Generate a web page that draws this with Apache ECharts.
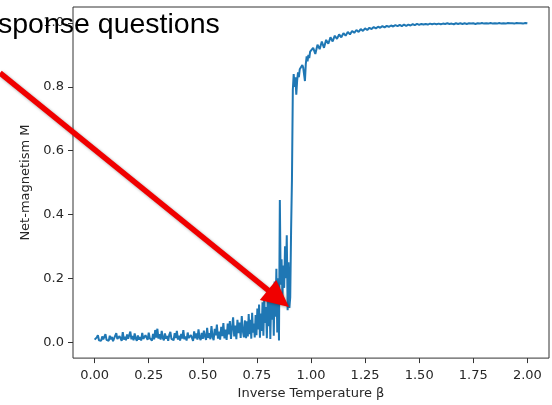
<!DOCTYPE html>
<html>
<head>
<meta charset="utf-8">
<script src="https://cdn.jsdelivr.net/npm/echarts@6/dist/echarts.min.js"></script>
<style>html,body{margin:0;padding:0;background:#fff}#c{width:552px;height:405px}</style>
</head>
<body>
<div id="c"></div>
<script>
// Magnetization, three stretches of beta
// Stretch A: beta 0.000 .. 0.695, step 0.005
const magLow = [
  0.008,0.003,0.015,0.022,0.006,0.011,0.004,0.018,0.009,0.003,
  0.025,0.007,0.013,0.004,0.020,0.009,0.016,0.003,0.012,0.006,
  0.028,0.010,0.005,0.019,0.013,0.004,0.031,0.008,0.017,0.006,
  0.024,0.011,0.005,0.033,0.009,0.019,0.006,0.027,0.012,0.004,
  0.021,0.008,0.016,0.005,0.029,0.010,0.004,0.022,0.014,0.007,
  0.030,0.012,0.018,0.005,0.026,0.009,0.038,0.014,0.042,0.011,
  0.025,0.008,0.035,0.013,0.006,0.027,0.011,0.019,0.004,0.023,
  0.032,0.010,0.016,0.006,0.028,0.013,0.035,0.008,0.020,0.005,
  0.026,0.011,0.038,0.009,0.018,0.005,0.030,0.013,0.007,0.022,
  0.016,0.004,0.034,0.012,0.027,0.008,0.040,0.014,0.006,0.029,
  0.010,0.036,0.018,0.007,0.045,0.013,0.028,0.009,0.050,0.016,
  0.006,0.042,0.021,0.055,0.011,0.033,0.008,0.048,0.019,0.060,
  0.012,0.039,0.007,0.058,0.024,0.066,0.010,0.045,0.078,0.018,
  0.052,0.009,0.070,0.028,0.061,0.013,0.082,0.035,0.015,0.068
];
// Stretch B: beta 0.700 .. 0.996, step 0.004
const magMid = [
  0.012,0.065,0.018,0.088,0.025,0.070,0.011,0.092,0.030,0.058,
  0.015,0.085,0.022,0.105,0.040,0.118,0.014,0.090,0.035,0.125,
  0.020,0.140,0.060,0.110,0.012,0.145,0.050,0.152,0.010,0.130,
  0.070,0.175,0.020,0.190,0.080,0.230,0.030,0.200,0.005,0.445,
  0.180,0.260,0.140,0.240,0.170,0.300,0.200,0.335,0.100,0.250,
  0.107,0.140,0.350,0.510,0.790,0.840,0.800,0.830,0.775,0.820,
  0.845,0.830,0.855,0.860,0.850,0.868,0.860,0.865,0.818,0.872,
  0.895,0.880,0.900,0.890,0.910
];
// Stretch C: beta 1.00 .. 2.00, step 0.01
const magHigh = [
  0.905,0.922,0.903,0.932,0.918,0.942,0.922,0.947,0.935,0.955,
  0.942,0.960,0.950,0.964,0.955,0.968,0.960,0.972,0.964,0.975,
  0.969,0.978,0.972,0.981,0.975,0.983,0.978,0.985,0.981,0.987,
  0.983,0.988,0.985,0.990,0.986,0.991,0.988,0.992,0.989,0.993,
  0.990,0.994,0.990,0.995,0.991,0.995,0.992,0.996,0.993,0.997,
  0.994,0.997,0.995,0.997,0.995,0.998,0.996,0.998,0.996,0.998,
  0.996,0.998,0.997,0.999,0.997,0.998,0.996,0.999,0.997,0.999,
  0.997,0.999,0.997,0.999,0.998,0.999,0.997,0.999,0.998,1.000,
  0.998,0.999,0.998,1.000,0.998,0.999,0.998,1.000,0.998,0.999,
  0.998,1.000,0.999,0.999,0.998,1.000,0.999,0.999,0.998,1.000,
  0.999
];
const stretches = [
  {start: 0.00, step: 0.005, values: magLow},
  {start: 0.70, step: 0.004, values: magMid},
  {start: 1.00, step: 0.01,  values: magHigh}
];
const xTicks = [0, 0.25, 0.5, 0.75, 1.0, 1.25, 1.5, 1.75, 2.0];
const yTicks = [0, 0.2, 0.4, 0.6, 0.8, 1.0];
const xName = 'Inverse Temperature \u03B2';
const yName = 'Net-magnetism M';
const slideText = 'sponse questions';

const data = [];
stretches.forEach(s => s.values.forEach((v, i) => {
  data.push([+(s.start + i * s.step).toFixed(4), v]);
}));

const tickColor = '#333';
const font = 'DejaVu Sans';

// arrow geometry
const tail = [0, 73], tip = [289, 307];
const dx = tip[0] - tail[0], dy = tip[1] - tail[1], L = Math.hypot(dx, dy);
const ux = dx / L, uy = dy / L, hl = 27, hw = 13;
const bx = tip[0] - ux * hl, by = tip[1] - uy * hl;

const chart = echarts.init(document.getElementById('c'), null, {renderer: 'canvas'});
chart.setOption({
  animation: false,
  grid: {left: 73, right: 3, top: 7, bottom: 42, show: true, borderColor: '#333', borderWidth: 1, backgroundColor: 'transparent'},
  xAxis: {
    type: 'value', min: -0.1, max: 2.1,
    axisLine: {show: false, onZero: false},
    splitLine: {show: false},
    axisTick: {show: true, customValues: xTicks, length: 5, lineStyle: {color: tickColor}},
    axisLabel: {customValues: xTicks, formatter: v => v.toFixed(2), color: '#262626', fontFamily: font, fontSize: 13, margin: 11},
    name: xName, nameLocation: 'middle', nameGap: 25,
    nameTextStyle: {color: '#262626', fontFamily: font, fontSize: 13}
  },
  yAxis: {
    type: 'value', min: -0.05, max: 1.05,
    axisLine: {show: false, onZero: false},
    splitLine: {show: false},
    axisTick: {show: true, customValues: yTicks, length: 5, lineStyle: {color: tickColor}},
    axisLabel: {customValues: yTicks, formatter: v => v.toFixed(1), color: '#262626', fontFamily: font, fontSize: 13, margin: 9},
    name: yName, nameLocation: 'middle', nameGap: 30,
    nameTextStyle: {color: '#262626', fontFamily: font, fontSize: 13}
  },
  series: [{
    type: 'line', data: data, showSymbol: false, symbol: 'none',
    lineStyle: {color: '#1f77b4', width: 2}, z: 3
  }],
  graphic: [
    {type: 'text', z: 100, style: {text: slideText, x: -2, y: 25, font: '28.5px "Liberation Sans", Arial, sans-serif', fill: '#000', verticalAlign: 'middle'}},
    {type: 'line', z: 101, shape: {x1: tail[0], y1: tail[1], x2: bx + ux * 2, y2: by + uy * 2},
      style: {stroke: '#f00000', lineWidth: 5.5, shadowBlur: 3, shadowColor: 'rgba(0,0,0,0.35)', shadowOffsetX: 1, shadowOffsetY: 1}},
    {type: 'polygon', z: 102, shape: {points: [[tip[0], tip[1]], [bx - uy * hw, by + ux * hw], [bx + uy * hw, by - ux * hw]]},
      style: {fill: '#f00000', shadowBlur: 3, shadowColor: 'rgba(0,0,0,0.35)', shadowOffsetX: 1, shadowOffsetY: 1}}
  ]
});
</script>
</body>
</html>
